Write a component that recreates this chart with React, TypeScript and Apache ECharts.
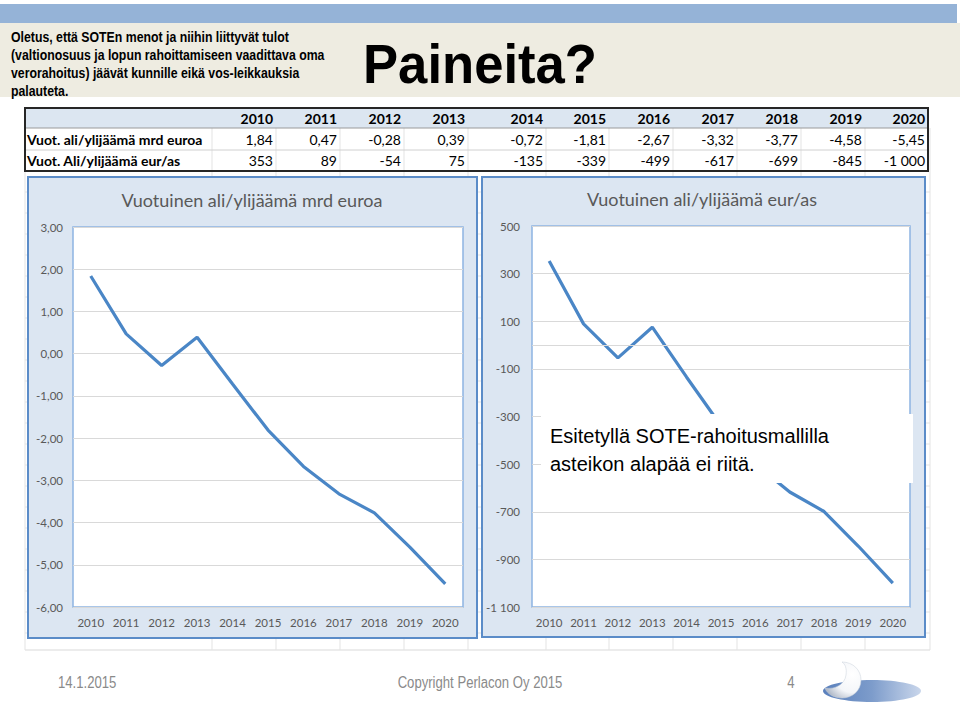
import React, { useEffect, useRef } from "react";
import * as echarts from "echarts";

const years = ["2010", "2011", "2012", "2013", "2014", "2015", "2016", "2017", "2018", "2019", "2020"];
const deficitBn = [1.84, 0.47, -0.28, 0.39, -0.72, -1.81, -2.67, -3.32, -3.77, -4.58, -5.45];
const deficitPerCapita = [353, 89, -54, 75, -135, -339, -499, -617, -699, -845, -1000];
const leftAxis = { min: -6, max: 3, interval: 1 };
const rightAxis = { min: -1100, max: 500, interval: 200 };

const introLines = [
  "Oletus, että SOTEn menot ja niihin liittyvät tulot",
  "(valtionosuus ja lopun rahoittamiseen vaadittava oma",
  "verorahoitus) jäävät kunnille eikä vos-leikkauksia",
  "palauteta.",
];
const rowLabels = ["Vuot. ali/ylijäämä mrd euroa", "Vuot. Ali/ylijäämä eur/as"];
const chartTitles = ["Vuotuinen ali/ylijäämä mrd euroa", "Vuotuinen ali/ylijäämä eur/as"];
const noteLines = ["Esitetyllä SOTE-rahoitusmallilla", "asteikon alapää ei riitä."];

const fmtDec = (v: number) => v.toFixed(2).replace(".", ",");
const fmtInt = (v: number) => {
  const s = Math.abs(Math.round(v)).toString().replace(/\B(?=(\d{3})+(?!\d))/g, " ");
  return (v < 0 ? "-" : "") + s;
};

const CAL = "Lato, 'Open Sans', sans-serif";
const ARIAL = "'Liberation Sans', Arial, sans-serif";
const GRAY = "#595959";

// column boundaries (layout)
const colB = [212, 276, 340, 404, 468, 546, 609, 673, 737, 801, 865, 928];

function buildGraphic() {
  const g: any[] = [];
  const bg = -10;
  g.push({ type: "rect", z: bg, shape: { x: 0, y: 0, width: 960, height: 707 }, style: { fill: "#ffffff" } });
  g.push({ type: "rect", z: bg, shape: { x: 0, y: 4, width: 957, height: 19 }, style: { fill: "#95B3D7" } });
  g.push({ type: "rect", z: bg, shape: { x: 0, y: 23, width: 960, height: 74 }, style: { fill: "#EEECE1" } });
  introLines.forEach((t, i) => {
    g.push({
      type: "text", z: bg, x: 11, y: 37 + i * 18, scaleX: 0.82,
      style: { text: t, fontSize: 15, fontWeight: "bold", fontFamily: ARIAL, fill: "#000", textAlign: "left", textVerticalAlign: "middle" },
    });
  });
  g.push({
    type: "text", z: bg, x: 480, y: 64, scaleX: 0.94,
    style: { text: "Paineita?", fontSize: 56, fontWeight: "bold", fontFamily: ARIAL, fill: "#000", textAlign: "center", textVerticalAlign: "middle" },
  });
  // sheet gridlines
  const gl = "#E3E3E3";
  for (let k = 1; k <= 22; k++) {
    const y = 171 + k * 21;
    g.push({ type: "line", z: bg, shape: { x1: 25, y1: y, x2: 930, y2: y }, style: { stroke: gl, lineWidth: 1 } });
  }
  g.push({ type: "line", z: bg, shape: { x1: 25, y1: 650, x2: 930, y2: 650 }, style: { stroke: "#D9D9D9", lineWidth: 1 } });
  [25, ...colB.slice(0, 11), 930].forEach((x) => {
    g.push({ type: "line", z: bg, shape: { x1: x, y1: 128, x2: x, y2: 650 }, style: { stroke: gl, lineWidth: 1 } });
  });
  // table
  g.push({ type: "rect", z: bg, shape: { x: 25, y: 108, width: 903, height: 20 }, style: { fill: "#DCE6F1" } });
  g.push({ type: "line", z: bg, shape: { x1: 25, y1: 150, x2: 928, y2: 150 }, style: { stroke: "#D0D0D0", lineWidth: 1 } });
  g.push({ type: "line", z: bg, shape: { x1: 25, y1: 128, x2: 928, y2: 128 }, style: { stroke: "#9A9A9A", lineWidth: 1 } });
  years.forEach((y, i) => {
    const xr = colB[i + 1] - 3;
    g.push({ type: "text", z: bg, x: xr, y: 118, style: { text: y, fontSize: 14, fontWeight: "bold", fontFamily: CAL, fill: "#000", textAlign: "right", textVerticalAlign: "middle" } });
    g.push({ type: "text", z: bg, x: xr, y: 139, style: { text: fmtDec(deficitBn[i]), fontSize: 14, fontFamily: CAL, fill: "#000", textAlign: "right", textVerticalAlign: "middle" } });
    g.push({ type: "text", z: bg, x: xr, y: 160, style: { text: fmtInt(deficitPerCapita[i]), fontSize: 14, fontFamily: CAL, fill: "#000", textAlign: "right", textVerticalAlign: "middle" } });
  });
  rowLabels.forEach((t, i) => {
    g.push({ type: "text", z: bg, x: 27, y: 139 + i * 21, style: { text: t, fontSize: 14, fontWeight: "bold", fontFamily: CAL, fill: "#000", textAlign: "left", textVerticalAlign: "middle" } });
  });
  g.push({ type: "rect", z: bg, shape: { x: 25, y: 108, width: 903, height: 63 }, style: { fill: "none", stroke: "#262626", lineWidth: 2 } });
  // chart boxes
  g.push({ type: "rect", z: bg, shape: { x: 28, y: 177, width: 449, height: 461 }, style: { fill: "#DCE6F2", stroke: "#5B8CC8", lineWidth: 2 } });
  g.push({ type: "rect", z: bg, shape: { x: 482, y: 177, width: 443, height: 460 }, style: { fill: "#DCE6F2", stroke: "#5B8CC8", lineWidth: 2 } });
  g.push({ type: "text", z: bg, x: 252, y: 200, style: { text: chartTitles[0], fontSize: 18, fontFamily: CAL, fill: GRAY, textAlign: "center", textVerticalAlign: "middle" } });
  g.push({ type: "text", z: bg, x: 702, y: 199, style: { text: chartTitles[1], fontSize: 18, fontFamily: CAL, fill: GRAY, textAlign: "center", textVerticalAlign: "middle" } });
  // note overlay
  g.push({ type: "rect", z: 50, shape: { x: 541, y: 414, width: 372, height: 69 }, style: { fill: "#ffffff" } });
  noteLines.forEach((t, i) => {
    g.push({ type: "text", z: 51, x: 550, y: 436 + i * 28, style: { text: t, fontSize: 20, fontFamily: ARIAL, fill: "#000", textAlign: "left", textVerticalAlign: "middle" } });
  });
  // footer
  const fg = "#8A8A8A";
  g.push({ type: "text", z: bg, x: 58, y: 683, scaleX: 0.82, style: { text: "14.1.2015", fontSize: 16, fontFamily: ARIAL, fill: fg, textAlign: "left", textVerticalAlign: "middle" } });
  g.push({ type: "text", z: bg, x: 480, y: 683, scaleX: 0.82, style: { text: "Copyright Perlacon Oy 2015", fontSize: 16, fontFamily: ARIAL, fill: fg, textAlign: "center", textVerticalAlign: "middle" } });
  g.push({ type: "text", z: bg, x: 791, y: 683, scaleX: 0.82, style: { text: "4", fontSize: 16, fontFamily: ARIAL, fill: fg, textAlign: "center", textVerticalAlign: "middle" } });
  // logo
  g.push({
    type: "ellipse", z: bg, shape: { cx: 872, cy: 691, rx: 49, ry: 11 },
    style: { fill: new echarts.graphic.LinearGradient(0, 0, 1, 0, [{ offset: 0, color: "#5A80BC" }, { offset: 0.5, color: "#7D9CCB" }, { offset: 1, color: "#C9D6EB" }]) },
  });
  g.push({
    type: "crescent", z: bg, x: 825, y: 662,
    style: { fill: new echarts.graphic.RadialGradient(0.75, 0.35, 0.9, [{ offset: 0, color: "#ffffff" }, { offset: 0.55, color: "#F4F6F9" }, { offset: 1, color: "#9EA9BB" }]), stroke: "#C9D0DB", lineWidth: 0.5 },
  });
  return g;
}

export default function App() {
  const ref = useRef<HTMLDivElement>(null);
  useEffect(() => {
    if (!ref.current) return;
    try {
      echarts.graphic.registerShape(
        "crescent",
        echarts.graphic.extendPath("M 17 0 C 28 0 36 8 36 18 C 36 29 27 36 17 36 C 9 36 2 32 0 26 C 10 28 20 22 21 13 C 22 6 20 2 17 0 Z", {})
      );
    } catch (e) {}
    const chart = echarts.init(ref.current, undefined, { renderer: "svg" });
    const axisLabel = { color: GRAY, fontFamily: CAL, fontSize: 11.5 };
    chart.setOption({
      animation: false,
      graphic: { elements: buildGraphic() },
      grid: [
        { left: 73, top: 227, width: 390, height: 380, show: true, backgroundColor: "#ffffff", borderColor: "#8DB4E2", borderWidth: 1.5 },
        { left: 532, top: 226, width: 378, height: 381, show: true, backgroundColor: "#ffffff", borderColor: "#8DB4E2", borderWidth: 1.5 },
      ],
      xAxis: [0, 1].map((i) => ({
        type: "category", gridIndex: i, data: years, boundaryGap: true,
        axisLine: { show: false }, axisTick: { show: false },
        axisLabel: { ...axisLabel, margin: 9, interval: 0 },
      })),
      yAxis: [
        {
          type: "value", gridIndex: 0, ...leftAxis,
          axisLine: { show: false }, axisTick: { show: false },
          axisLabel: { ...axisLabel, margin: 10, formatter: (v: number) => fmtDec(v) },
          splitLine: { lineStyle: { color: "#D9D9D9", width: 1 } },
        },
        {
          type: "value", gridIndex: 1, ...rightAxis,
          axisLine: { show: false }, axisTick: { show: false },
          axisLabel: { ...axisLabel, margin: 12, formatter: (v: number) => fmtInt(v) },
          splitLine: { lineStyle: { color: "#D9D9D9", width: 1 } },
        },
      ],
      series: [
        { type: "line", xAxisIndex: 0, yAxisIndex: 0, data: deficitBn, symbol: "none", lineStyle: { color: "#4A86C6", width: 3.2 } },
        {
          type: "line", xAxisIndex: 1, yAxisIndex: 1, data: deficitPerCapita, symbol: "none", lineStyle: { color: "#4A86C6", width: 3.2 },
          markLine: { silent: true, symbol: "none", label: { show: false }, lineStyle: { color: "#D9D9D9", type: "solid", width: 1 }, data: [{ yAxis: 0 }] },
        },
      ],
    });
    return () => chart.dispose();
  }, []);
  return <div ref={ref} style={{ position: "absolute", left: 0, top: 0, width: 960, height: 707 }} />;
}
